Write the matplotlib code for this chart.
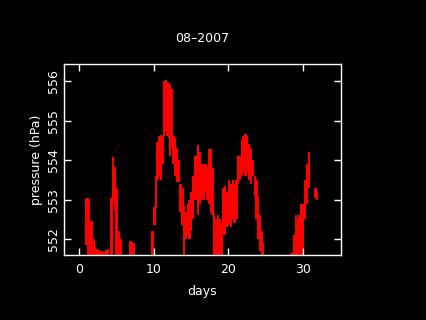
import numpy as np
import matplotlib
matplotlib.use('Agg')
import matplotlib.pyplot as plt

# pressure ranges per time slice (day, low, high in hPa)
days = [0.95, 1.15, 1.35, 1.55, 1.75, 1.95, 2.15, 2.35, 2.6, 3.0, 3.3, 3.6, 3.9,
        4.35, 4.55, 4.8, 5.0, 5.3, 5.55, 6.9, 7.3,
        9.85, 10.1, 10.3, 10.5, 10.75, 11.0, 11.2, 11.4, 11.6, 11.8, 12.0, 12.2, 12.4,
        12.65, 12.85, 13.1, 13.35, 13.6, 13.85, 14.05, 14.3, 14.55, 14.8, 15.05, 15.3, 15.5,
        15.7, 15.95, 16.2, 16.45, 16.7, 16.95, 17.2, 17.45, 17.7, 17.9,
        18.1, 18.35, 18.6, 18.85, 19.1, 19.35,
        19.6, 19.85, 20.1, 20.35, 20.6, 20.85, 21.1, 21.35, 21.6, 21.85, 22.05, 22.3,
        22.55, 22.8, 23.05, 23.3, 23.55, 23.8, 24.0, 24.25, 24.5, 24.7,
        28.5, 28.8, 29.05, 29.3, 29.55, 29.8, 30.05, 30.3, 30.55, 30.8, 31.7, 31.95]
p_lo = [551.85, 551.4, 551.4, 551.4, 551.4, 551.4, 551.4, 551.4, 551.4, 551.4, 551.4, 551.4, 551.4,
        551.5, 553.0, 552.75, 551.5, 551.4, 551.4, 551.4, 551.4,
        551.4, 552.35, 552.8, 553.5, 553.6, 553.5, 553.9, 554.6, 554.7, 554.6, 554.55, 554.1, 554.3,
        553.9, 553.6, 553.45, 553.45, 552.7, 552.35, 551.4, 552.0, 552.1, 552.0, 552.2, 552.5, 553.0,
        553.0, 552.6, 552.9, 553.0, 553.0, 553.2, 553.0, 552.9, 552.7, 552.6,
        551.4, 551.4, 551.4, 551.4, 551.4, 552.1,
        552.1, 552.3, 552.35, 552.3, 552.5, 552.4, 552.5, 553.4, 553.5, 553.6, 553.7, 553.6,
        553.7, 553.5, 553.4, 553.6, 553.1, 552.5, 552.0, 551.7, 551.5, 551.4,
        551.55, 551.4, 551.4, 551.4, 551.4, 551.4, 551.5, 552.5, 552.9, 553.3, 553.05, 553.0]
p_hi = [553.05, 553.05, 553.0, 552.45, 552.45, 552.0, 551.8, 551.75, 551.72, 551.7, 551.68, 551.72, 551.75,
        553.05, 554.09, 553.82, 553.3, 552.2, 552.0, 551.95, 551.9,
        552.2, 552.82, 553.6, 554.45, 554.6, 554.63, 554.6, 556.0, 556.02, 555.98, 555.95, 555.9, 555.8,
        554.6, 554.55, 554.3, 554.0, 553.4, 553.3, 552.85, 552.7, 552.9, 553.0, 553.2, 553.6, 554.1,
        554.1, 554.38, 554.2, 553.9, 553.9, 553.9, 553.85, 554.27, 554.27, 553.8,
        552.66, 552.5, 552.6, 552.5, 552.4, 553.3,
        553.35, 553.2, 553.5, 553.4, 553.5, 553.4, 553.5, 554.1, 554.1, 554.5, 554.6, 554.66,
        554.6, 554.4, 554.3, 554.0, 553.6, 553.5, 553.08, 552.6, 552.2, 551.9,
        551.65, 552.1, 552.6, 552.5, 552.6, 552.9, 552.9, 553.5, 553.9, 554.21, 553.3, 553.2]

xticks = [0, 10, 20, 30]
yticks = [552, 553, 554, 555, 556]

fig = plt.figure(figsize=(4.26, 3.2), dpi=100, facecolor='black')
ax = fig.add_axes([0.150, 0.203, 0.650, 0.596], facecolor='black')

# each slice drawn as a red block from low to high pressure
lo = np.array(p_lo)
hi = np.array(p_hi)
ax.bar(days, hi - lo, bottom=lo, width=0.3, color='#ff0000', linewidth=0)

ax.set_xlim(-2.05, 35.1)
ax.set_ylim(551.6, 556.42)
ax.set_xticks(xticks)
ax.set_yticks(yticks)

for s in ax.spines.values():
    s.set_color('white')
    s.set_linewidth(1.0)
ax.tick_params(direction='in', length=5, width=1, colors='white',
               top=True, right=True, labelsize=9)
ax.tick_params(axis='x', pad=6)
ax.tick_params(axis='y', pad=3)
for lab in ax.get_yticklabels():
    lab.set_rotation(90)
    lab.set_va('center')

ax.set_title('08\u20132007', color='white', fontsize=9, pad=16)
ax.set_xlabel('days', color='white', fontsize=9, labelpad=6)
ax.set_ylabel('pressure (hPa)', color='white', fontsize=9, labelpad=3)

fig.savefig('out.png', dpi=100, facecolor='black')
